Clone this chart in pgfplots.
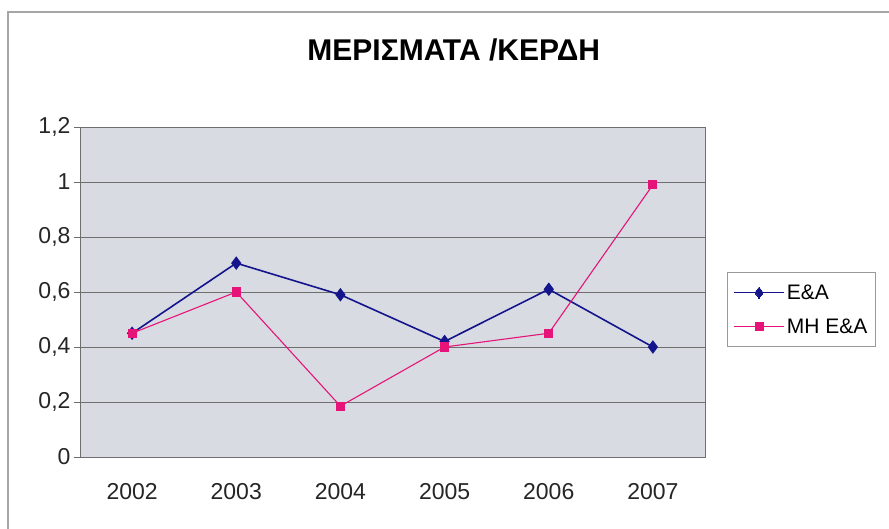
\documentclass[border=0pt]{standalone}
\usepackage{fontspec}
\setmainfont{Liberation Sans}
\usepackage{pgfplots}
\pgfplotsset{compat=1.18}
\definecolor{plotbg}{RGB}{216,220,226}
\definecolor{gridc}{RGB}{110,110,110}
\definecolor{ea}{RGB}{20,20,140}
\definecolor{mh}{RGB}{230,20,120}
\begin{document}
\begin{tikzpicture}[x=1pt,y=1pt]
\useasboundingbox (0,0) rectangle (889,528);
\fill[white] (0,0) rectangle (889,528);
\draw[gray!70,line width=1.2pt] (8,-2) -- (8,516) -- (891,516);
\begin{axis}[
  at={(80pt,71pt)}, anchor=south west,
  width=625pt, height=330pt, scale only axis,
  xmin=-0.5, xmax=5.5, ymin=0, ymax=1.2,
  axis background/.style={fill=plotbg},
  axis line style={gridc, line width=0.9pt},
  xtick={0,1,2,3,4,5},
  xticklabels={2002,2003,2004,2005,2006,2007},
  major x tick style={draw=none},
  extra x ticks={-0.5,0.5,1.5,2.5,3.5,4.5,5.5},
  extra x tick labels={},
  extra x tick style={major tick length=6pt, tick align=outside, tick style={gridc, line width=0.9pt, draw=gridc}},
  ytick={0,0.2,0.4,0.6,0.8,1,1.2},
  yticklabels={0,{0,2},{0,4},{0,6},{0,8},1,{1,2}},
  ymajorgrids,
  grid style={gridc, line width=0.8pt},
  y tick style={gridc, line width=0.9pt},
  major tick length=6pt, tick align=outside,
  xtick pos=bottom, ytick pos=left,
  tick label style={font=\fontsize{23}{26}\selectfont, text=black!85},
  xticklabel style={yshift=-17pt},
  title={\bfseries ΜΕΡΙΣΜΑΤΑ /ΚΕΡΔΗ},
  title style={at={(axis description cs:0.598,1.215)}, anchor=center, font=\fontsize{30}{34}\selectfont},
  legend style={at={(axis description cs:1.035,0.56)}, anchor=north west,
    draw=gray!80, line width=0.8pt, font=\fontsize{21}{24}\selectfont,
    inner xsep=6pt, inner ysep=10pt, row sep=14pt,
    legend cell align=left},
  legend image code/.code={%
    \draw[mark=none] (0pt,0pt) -- (50pt,0pt);
    \draw[line width=0pt] plot coordinates {(25pt,0pt)};},
  legend style={nodes={fill=none}},
  clip=false,
]
\addplot[ea, line width=1.6pt, mark=diamond*, mark size=5.5pt, mark options={fill=ea}]
  coordinates {(0,0.45) (1,0.705) (2,0.59) (3,0.42) (4,0.61) (5,0.40)};
\addlegendentry{E\&A}
\addplot[mh, line width=1.1pt, mark=square*, mark size=4pt, mark options={fill=mh}]
  coordinates {(0,0.45) (1,0.60) (2,0.185) (3,0.40) (4,0.45) (5,0.99)};
\addlegendentry{MH E\&A}
\end{axis}
\end{tikzpicture}
\end{document}
